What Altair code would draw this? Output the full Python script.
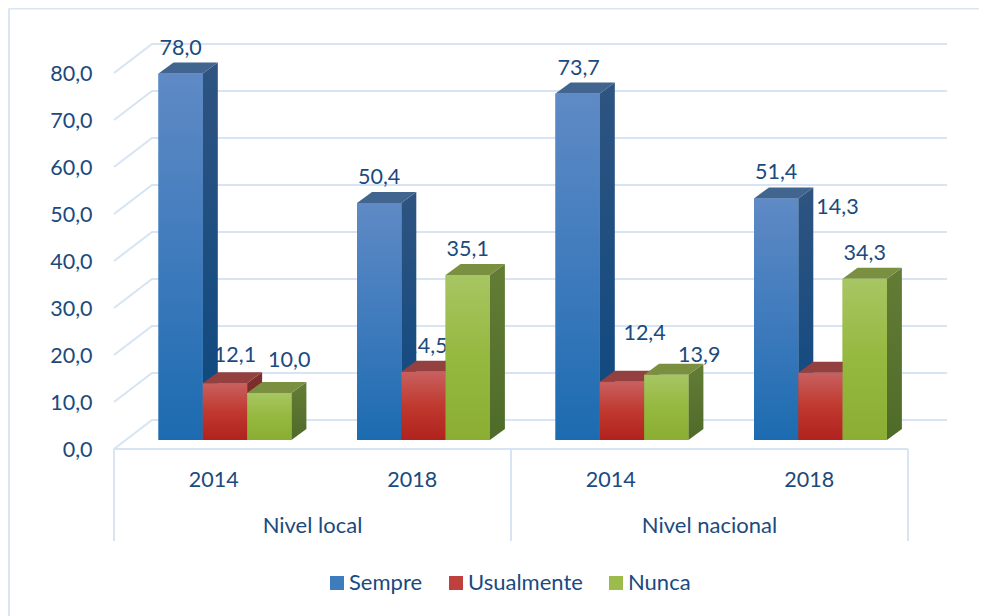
import altair as alt
import pandas as pd

# ---- chart values ----
groups = ["Nivel local", "Nivel nacional"]
years = ["2014", "2018", "2014", "2018"]
series = ["Sempre", "Usualmente", "Nunca"]
sempre = [78.0, 50.4, 73.7, 51.4]
usualmente = [12.1, 14.5, 12.4, 14.3]
nunca = [10.0, 35.1, 13.9, 34.3]
y_ticks = [0, 10, 20, 30, 40, 50, 60, 70, 80]

# ---- layout (pixels on the page) ----
X0, SLOT = 114.0, 198.5
Y0, PX_PER_UNIT = 449.0, 4.7
W, H = SLOT * 4, PX_PER_UNIT * 80
FONT, INK, LINE = "Lato", "#1b4a7e", "#d6e4f4"
NUM_SIZE, TEXT_SIZE = 21.5, 22


def ux(px):
    return px / SLOT


def uy(px):
    return px / PX_PER_UNIT


BAR_START, BAR_W = ux(44.5), ux(44.3)
DEPTH_X, DEPTH_Y = ux(15), uy(11)
BASE = uy(9)
BACK_X, BACK_Y = ux(38), uy(29)
GRID_END = ux(947 - X0)
# label shift (dx, dy) from the top centre of each bar, by series then slot
NUDGE = {
    "Sempre": [(0, -24), (0, -25), (1, -25), (0, -25)],
    "Usualmente": [(10, -27), (3, -25), (22.6, -48), (17, -165)],
    "Nunca": [(20, -32), (0, -25), (33, -19), (0, -25)],
}
STYLE = {
    "Sempre": dict(
        solid="#3f7cbd", stops=["#5f8ac5", "#3f7bbd", "#1c6bb0"],
        side=["#2f5480", "#0c4880"], top="#41658f"),
    "Usualmente": dict(
        solid="#c0403d", stops=["#c86060", "#c0392f", "#b0221e"],
        side=["#7d2f2f", "#7a1f1c"], top="#944040"),
    "Nunca": dict(
        solid="#9bbb4a", stops=["#a7c663", "#95b83f", "#8aad32"],
        side=["#637d36", "#4f6b29"], top="#7a9040"),
}

x_scale = alt.Scale(domain=[0, 4], nice=False, zero=False)
y_scale = alt.Scale(domain=[0, 80], nice=False, zero=False)
x_axis = alt.Axis(
    values=[0.5, 1.5, 2.5, 3.5], title=None, domain=False, ticks=False, grid=False,
    labelExpr="[" + ",".join(f"'{t}'" for t in years) + "][floor(datum.value)]",
    labelFont=FONT, labelFontSize=NUM_SIZE, labelColor=INK, labelPadding=20)
y_axis = alt.Axis(
    values=y_ticks, title=None, domain=False, ticks=False, grid=False,
    labelExpr="replace(format(datum.value,'.1f'),'.',',')",
    labelFont=FONT, labelFontSize=NUM_SIZE, labelColor=INK, labelPadding=22, labelOffset=1.5)


def X(field="x", **kw):
    return alt.X(field, type="quantitative", scale=x_scale, axis=x_axis, **kw)


def Y(field="y", **kw):
    return alt.Y(field, type="quantitative", scale=y_scale, axis=y_axis, stack=None, **kw)


def gradient(colors):
    n = len(colors) - 1
    return alt.LinearGradient(
        gradient="linear", x1=0, x2=0, y1=0, y2=1,
        stops=[alt.GradientStop(color=c, offset=i / n) for i, c in enumerate(colors)],
    )


# ---- tables derived from the value lists ----
rows = []
for name, vals in zip(series, [sempre, usualmente, nunca]):
    j = series.index(name)
    for i, v in enumerate(vals):
        left = i + BAR_START + j * BAR_W
        dx, dy = NUDGE[name][i]
        rows.append(dict(
            serie=name, bar=f"{name}{i}", value=v, x=left, x2=left + BAR_W,
            y=v + BASE, y2=BASE,
            lx=left + BAR_W / 2 + ux(dx), ly=v + BASE - uy(dy),
            text=f"{v:.1f}".replace(".", ","),
        ))
bars = pd.DataFrame(rows)

grid_rows = []
for g in y_ticks:
    grid_rows += [
        dict(g=g, o=0, x=0, y=g),
        dict(g=g, o=1, x=BACK_X, y=g + BACK_Y),
        dict(g=g, o=2, x=GRID_END, y=g + BACK_Y),
    ]
grid = pd.DataFrame(grid_rows)

layers = []

# frame of the picture
frame_x = ux(9 - X0)
frame = pd.DataFrame(dict(
    k=["left", "left", "top", "top"],
    x=[frame_x, frame_x, frame_x, ux(979 - X0)],
    y=[uy(Y0 - 616), uy(Y0 - 8.5), uy(Y0 - 8.5), uy(Y0 - 8.5)],
    o=[0, 1, 2, 3],
))
layers.append(alt.Chart(frame).mark_line(color="#d9e6f6", strokeWidth=2).encode(
    x=X(), y=Y(), detail="k:N", order="o:Q"))

# back wall grid with the diagonal floor lines
layers.append(alt.Chart(grid).mark_line(color=LINE, strokeWidth=2).encode(
    x=X(), y=Y(), detail="g:N", order="o:Q"))

# front floor line and multi-level category separators
floor = pd.DataFrame(dict(x=[0.0], x2=[4.0], y=[0.0]))
layers.append(alt.Chart(floor).mark_rule(color=LINE, strokeWidth=2).encode(
    x=X(), x2="x2:Q", y=Y()))
seps = pd.DataFrame(dict(x=[0.0, 2.0, 4.0], y=[0.0] * 3, y2=[uy(Y0 - 541)] * 3))
layers.append(alt.Chart(seps).mark_rule(color=LINE, strokeWidth=2).encode(
    x=X(), y=Y(), y2="y2:Q"))

# group captions
caps = pd.DataFrame(dict(x=[1.0, 3.0], y=[uy(Y0 - 526)] * 2, text=groups))
layers.append(alt.Chart(caps).mark_text(
    font=FONT, fontSize=TEXT_SIZE, color=INK, baseline="middle", align="center"
).encode(x=X(), y=Y(), text="text:N"))

# value labels lie behind the bars, as in the original
layers.append(alt.Chart(bars).mark_text(
    font=FONT, fontSize=NUM_SIZE, color=INK, baseline="middle", align="center"
).encode(x=X("lx"), y=Y("ly"), text="text:N"))

# flat bars that carry the legend, painted over by the shaded faces
layers.append(alt.Chart(bars).mark_bar().encode(
    x=X(), x2="x2:Q", y=Y(), y2="y2:Q",
    color=alt.Color("serie:N", scale=alt.Scale(
        domain=series, range=[STYLE[s]["solid"] for s in series]),
        legend=alt.Legend(
            orient="none", direction="horizontal", columns=3, title=None,
            legendX=326 - X0, legendY=572 - 73, symbolType="square", symbolSize=196,
            symbolStrokeWidth=0, labelFont=FONT, labelFontSize=TEXT_SIZE, labelColor=INK,
            labelOffset=1, columnPadding=22, padding=0, offset=0)),
))

for name in series:
    st = STYLE[name]
    sub = bars[bars.serie == name]
    side_rows, top_rows = [], []
    for r in sub.itertuples():
        side_rows += [
            dict(bar=r.bar, x=r.x2, y=r.y, y2=r.y2),
            dict(bar=r.bar, x=r.x2 + DEPTH_X, y=r.y + DEPTH_Y, y2=r.y2 + DEPTH_Y),
        ]
        top_rows += [
            dict(bar=r.bar, x=r.x, y=r.y, y2=r.y),
            dict(bar=r.bar, x=r.x + DEPTH_X, y=r.y + DEPTH_Y, y2=r.y),
            dict(bar=r.bar, x=r.x2, y=r.y + DEPTH_Y, y2=r.y),
            dict(bar=r.bar, x=r.x2 + DEPTH_X, y=r.y + DEPTH_Y, y2=r.y + DEPTH_Y),
        ]
    layers.append(alt.Chart(pd.DataFrame(side_rows)).mark_area(
        fill=gradient(st["side"]), interpolate="linear"
    ).encode(x=X(), y=Y(), y2="y2:Q", detail="bar:N"))
    layers.append(alt.Chart(pd.DataFrame(top_rows)).mark_area(
        fill=st["top"], interpolate="linear"
    ).encode(x=X(), y=Y(), y2="y2:Q", detail="bar:N"))
    layers.append(alt.Chart(sub).mark_bar(fill=gradient(st["stops"])).encode(
        x=X(), x2="x2:Q", y=Y(), y2="y2:Q"))

chart = alt.layer(*layers).properties(
    width=W, height=H,
    padding={"left": X0 - 8, "top": 73 - 8, "right": 979 - X0 - W, "bottom": 608 - 65 - H},
    autosize=alt.AutoSizeParams(type="none"),
    background="white",
).configure_view(stroke=None)

chart.save("out.html", embed_options={"renderer": "svg", "actions": False})
